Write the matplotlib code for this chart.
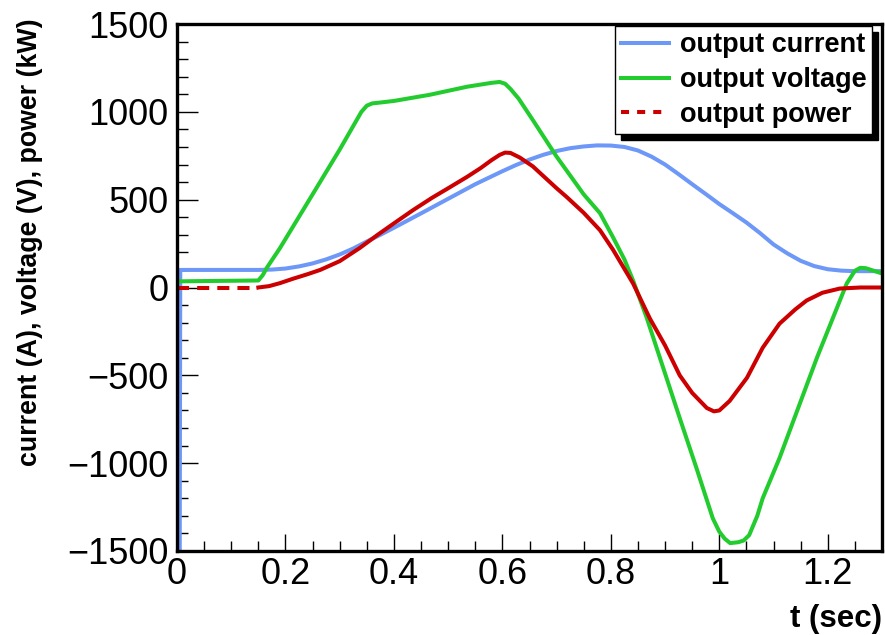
import numpy as np
import matplotlib
matplotlib.use("Agg")
import matplotlib.pyplot as plt
from matplotlib.lines import Line2D
from matplotlib.patches import Rectangle
from matplotlib.transforms import IdentityTransform
from matplotlib.ticker import MultipleLocator

plt.rcParams["font.family"] = ["Liberation Sans", "DejaVu Sans"]

# output current (A)
t_cur = [0.005, 0.006, 0.15, 0.175, 0.2, 0.225, 0.25, 0.275, 0.3, 0.325, 0.35, 0.375,
         0.4, 0.45, 0.5, 0.55, 0.6, 0.625, 0.65, 0.675, 0.7, 0.725, 0.75, 0.775,
         0.8, 0.825, 0.85, 0.875, 0.9, 0.925, 0.95, 0.975, 1.0, 1.025, 1.05, 1.075,
         1.1, 1.125, 1.15, 1.175, 1.2, 1.225, 1.25, 1.3]
current = [-1600, 100, 100, 102, 108, 120, 137, 160, 188, 222, 262, 300,
           340, 422, 505, 588, 662, 697, 728, 755, 777, 793, 803, 809,
           808, 800, 780, 745, 700, 645, 588, 532, 475, 423, 370, 310,
           245, 195, 152, 122, 104, 96, 93, 93]

# output voltage (V)
t_volt = [0.0, 0.15, 0.158, 0.166, 0.19, 0.25, 0.3, 0.34, 0.35, 0.36, 0.375, 0.4,
          0.466, 0.535, 0.58, 0.595, 0.605, 0.615, 0.63, 0.656, 0.7, 0.75, 0.78,
          0.804, 0.825, 0.841, 0.866, 0.927, 0.958, 0.988, 1.0, 1.01, 1.02, 1.035,
          1.045, 1.055, 1.07, 1.08, 1.111, 1.18, 1.235, 1.25, 1.26, 1.27, 1.283, 1.3]
voltage = [35, 40, 70, 114, 225, 530, 785, 1000, 1035, 1048, 1053, 1062,
           1097, 1143, 1165, 1170, 1160, 1130, 1075, 954, 745, 530, 423,
           286, 160, 40, -171, -743, -1029, -1314, -1390, -1430, -1455, -1450,
           -1440, -1410, -1300, -1200, -971, -400, 23, 95, 112, 110, 97, 80]

# output power (kW)
t_pow = [0.0, 0.15, 0.17, 0.19, 0.214, 0.24, 0.264, 0.3, 0.337, 0.37, 0.4, 0.435,
         0.47, 0.5, 0.535, 0.56, 0.58, 0.595, 0.605, 0.615, 0.632, 0.656, 0.7,
         0.719, 0.75, 0.78, 0.804, 0.841, 0.872, 0.9, 0.927, 0.95, 0.977, 0.99,
         1.0, 1.019, 1.051, 1.08, 1.111, 1.14, 1.161, 1.19, 1.222, 1.26, 1.3]
power = [0, 0, 8, 25, 50, 75, 100, 150, 225, 300, 365, 440,
         510, 565, 630, 680, 725, 755, 768, 766, 740, 690, 565,
         514, 425, 326, 215, 23, -177, -330, -500, -600, -686, -705,
         -700, -646, -514, -343, -206, -125, -74, -30, -6, 0, 0]

c_cur = "#6d98f8"
c_volt = "#22cc2e"
c_pow = "#cc0000"
lw = 2.9

fig = plt.figure(figsize=(8.85, 6.35), dpi=100)
ax = fig.add_axes([177 / 885, 84 / 635, 705 / 885, 527 / 635])

ax.plot(t_cur, current, color=c_cur, lw=lw, solid_joinstyle="round")
ax.plot(t_volt, voltage, color=c_volt, lw=lw, solid_joinstyle="round")

# power: flat start drawn dashed, the noisy rest looks solid
t_p = np.array(t_pow)
p = np.array(power)
flat = t_p <= 0.15
ax.plot(t_p[flat], p[flat], color=c_pow, lw=lw, dashes=(3.0, 2.0))
ax.plot(t_p[t_p >= 0.15], p[t_p >= 0.15], color=c_pow, lw=lw, solid_joinstyle="round")

ax.set_xlim(0, 1.3)
ax.set_ylim(-1500, 1500)
ax.xaxis.set_minor_locator(MultipleLocator(0.05))
ax.yaxis.set_minor_locator(MultipleLocator(100))
ax.set_xticks([0, 0.2, 0.4, 0.6, 0.8, 1.0, 1.2])
ax.set_xticklabels(["0", "0.2", "0.4", "0.6", "0.8", "1", "1.2"])
ax.set_yticks([-1500, -1000, -500, 0, 500, 1000, 1500])
ax.set_yticklabels(["\u22121500", "\u22121000", "\u2212500", "0", "500", "1000", "1500"])

ax.tick_params(which="both", direction="in", top=False, right=False, width=1)
ax.tick_params(axis="y", which="major", length=15, labelsize=26, pad=6)
ax.tick_params(axis="y", which="minor", length=8)
ax.tick_params(axis="x", which="major", length=12, labelsize=26, pad=4)
ax.tick_params(axis="x", which="minor", length=7)
for s in ax.spines.values():
    s.set_linewidth(2.4)

ax.set_ylabel("current (A), voltage (V), power (kW)", fontsize=19.3,
              fontweight="bold", loc="top")
ax.yaxis.set_label_coords(-0.19, 1.011)
ax.set_xlabel("t (sec)", fontsize=22.5, fontweight="bold", loc="right")
ax.xaxis.set_label_coords(1.0, -0.1)

handles = [Line2D([], [], color=c_cur, lw=lw),
           Line2D([], [], color=c_volt, lw=lw),
           Line2D([], [], color=c_pow, lw=lw, dashes=(2.0, 2.0))]
labels = ["output current", "output voltage", "output power"]
leg = ax.legend(handles, labels, loc="upper right", bbox_to_anchor=(0.986, 0.996),
                borderaxespad=0, prop={"weight": "bold", "size": 19.5},
                handlelength=1.75, handletextpad=0.4, labelspacing=0.33,
                borderpad=0.22, fancybox=False, framealpha=1, edgecolor="black")
leg.get_frame().set_linewidth(1.0)
leg.set_zorder(10)

# ROOT-style solid black drop shadow behind the legend box
fig.canvas.draw()
bb = leg.get_window_extent()
shadow = Rectangle((bb.x0 + 6, bb.y0 - 6), bb.width, bb.height,
                   transform=IdentityTransform(), facecolor="black",
                   edgecolor="black", zorder=9, clip_on=False)
ax.add_artist(shadow)

fig.savefig("out.png", dpi=100)
